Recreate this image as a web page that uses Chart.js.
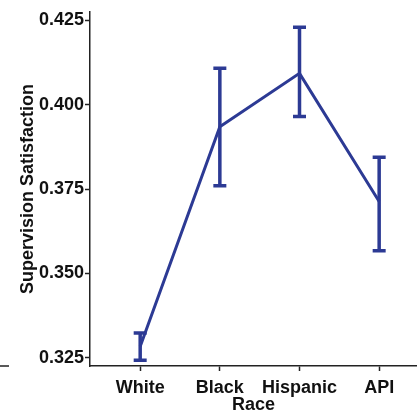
<!DOCTYPE html>
<html>
<head>
<meta charset="utf-8">
<script src="https://cdn.jsdelivr.net/npm/chart.js@4"></script>
<style>
  html, body { margin: 0; padding: 0; background: #fff; }
  #wrap { width: 417px; height: 416px; }
</style>
</head>
<body>
<div id="wrap"><canvas id="raceChart" width="417" height="416"></canvas></div>
<script>
// values
const races = ["White", "Black", "Hispanic", "API"];
const means = [0.3283, 0.3935, 0.4093, 0.3713];
const lower = [0.3242, 0.3760, 0.3965, 0.3567];
const upper = [0.3323, 0.4108, 0.4230, 0.3844];
const yTicks = [0.325, 0.350, 0.375, 0.400, 0.425];

const blue = "#2c3a94";
const font = { family: "'Liberation Sans', Arial, sans-serif", size: 18, weight: "bold" };

// error bars drawn through the chart's own scales
const errorBars = {
    id: "errorBars",
    afterDatasetsDraw(chart) {
        const ctx = chart.ctx;
        const xs = chart.scales.x, ys = chart.scales.y;
        ctx.save();
        ctx.strokeStyle = blue;
        ctx.lineWidth = 3.5;
        ctx.lineCap = "butt";
        races.forEach((r, i) => {
            const x = xs.getPixelForValue(i + 1);
            const yLo = ys.getPixelForValue(lower[i]);
            const yHi = ys.getPixelForValue(upper[i]);
            ctx.beginPath();
            ctx.moveTo(x, yLo); ctx.lineTo(x, yHi);
            ctx.moveTo(x - 6.5, yLo); ctx.lineTo(x + 6.5, yLo);
            ctx.moveTo(x - 6.5, yHi); ctx.lineTo(x + 6.5, yHi);
            ctx.stroke();
        });
        ctx.restore();
    }
};

// the little stray axis piece at the far left of the reference
const leftStub = {
    id: "leftStub",
    afterDraw(chart) {
        const ctx = chart.ctx;
        const y = chart.chartArea.bottom;
        ctx.save();
        ctx.strokeStyle = "#222";
        ctx.lineWidth = 1.5;
        ctx.beginPath();
        ctx.moveTo(0, y); ctx.lineTo(9, y);
        ctx.stroke();
        ctx.restore();
    }
};

const ctx = document.getElementById("raceChart").getContext("2d");
new Chart(ctx, {
    type: "line",
    data: {
        datasets: [{
            data: means.map((m, i) => ({ x: i + 1, y: m })),
            borderColor: blue,
            borderWidth: 3,
            pointRadius: 0,
            tension: 0,
            fill: false
        }]
    },
    options: {
        responsive: false,
        animation: false,
        layout: { padding: { top: 12, right: 0, left: 17, bottom: 0 } },
        plugins: { legend: { display: false }, tooltip: { enabled: false } },
        scales: {
            x: {
                type: "linear",
                min: 0.37,
                max: 4.475,
                afterBuildTicks: s => { s.ticks = races.map((r, i) => ({ value: i + 1 })); },
                afterFit: s => { s.height = 50; },
                ticks: {
                    callback: v => races[v - 1],
                    color: "#111",
                    font: font,
                    padding: 6,
                    maxRotation: 0,
                    autoSkip: false
                },
                grid: { drawOnChartArea: false, tickLength: 5, color: "#222", tickWidth: 1.5 },
                border: { color: "#222", width: 1.5 },
                title: { display: true, text: "Race", color: "#111", font: font, padding: { top: -1, bottom: 0 } }
            },
            y: {
                min: 0.3225,
                max: 0.4275,
                afterBuildTicks: s => { s.ticks = yTicks.map(v => ({ value: v })); },
                afterFit: s => { s.width = 73; },
                ticks: {
                    callback: v => v.toFixed(3),
                    color: "#111",
                    font: font,
                    padding: 1
                },
                grid: { drawOnChartArea: false, tickLength: 5, color: "#222", tickWidth: 1.5 },
                border: { color: "#222", width: 1.5 },
                title: { display: true, text: "Supervision Satisfaction", color: "#111", font: font, padding: 0 }
            }
        }
    },
    plugins: [errorBars, leftStub]
});
</script>
</body>
</html>
